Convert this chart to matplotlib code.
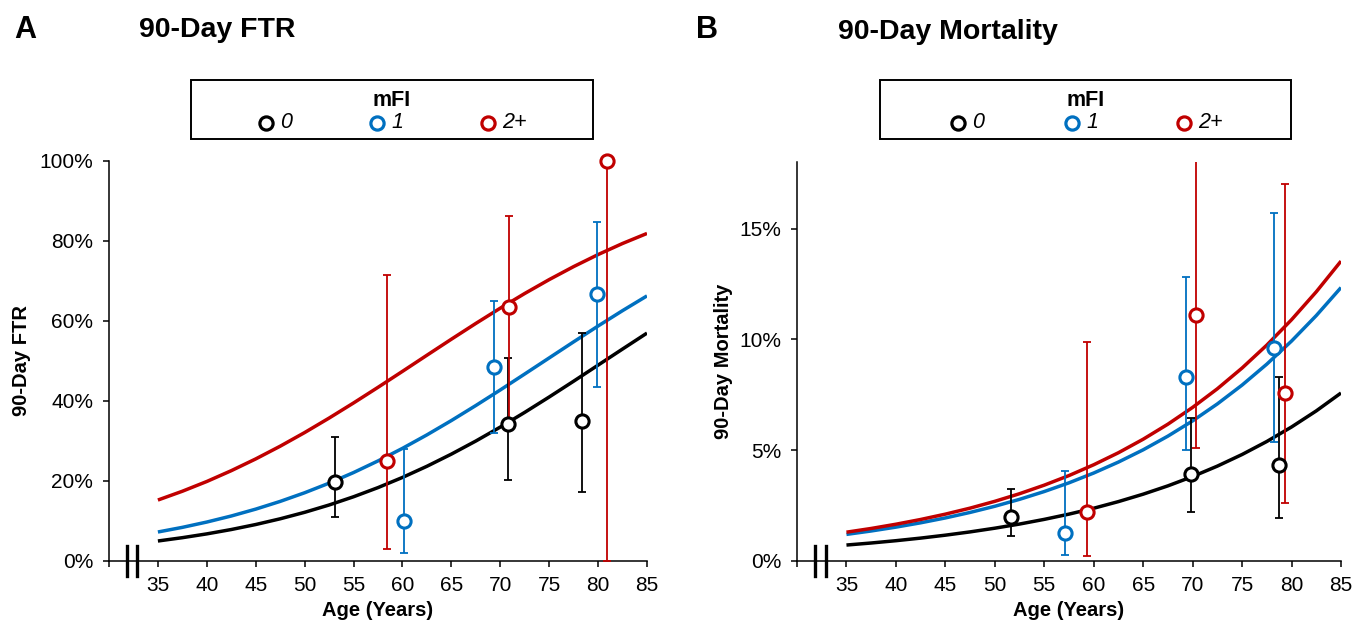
import matplotlib
matplotlib.use("Agg")
import matplotlib.pyplot as plt
from matplotlib.lines import Line2D
from matplotlib.patches import Rectangle
from matplotlib.ticker import FuncFormatter

plt.rcParams['font.family'] = ['Liberation Sans', 'DejaVu Sans']

# ---------------- data ----------------
curve_age = [35, 37.5, 40, 42.5, 45, 47.5, 50, 52.5, 55, 57.5, 60,
             62.5, 65, 67.5, 70, 72.5, 75, 77.5, 80, 82.5, 85]

# Panel A: 90-day FTR fitted curves
ftr_curve_0 = [0.0500, 0.0583, 0.0678, 0.0787, 0.0912, 0.1055, 0.1217, 0.1400, 0.1606, 0.1835, 0.2089,
               0.2368, 0.2672, 0.2999, 0.3348, 0.3716, 0.4100, 0.4495, 0.4897, 0.5299, 0.5698]
ftr_curve_1 = [0.0725, 0.0841, 0.0974, 0.1125, 0.1297, 0.1490, 0.1706, 0.1946, 0.2211, 0.2502, 0.2816,
               0.3153, 0.3511, 0.3887, 0.4276, 0.4675, 0.5077, 0.5479, 0.5875, 0.6259, 0.6628]
ftr_curve_2 = [0.1524, 0.1744, 0.1988, 0.2258, 0.2552, 0.2870, 0.3211, 0.3573, 0.3951, 0.4342, 0.4741,
               0.5144, 0.5545, 0.5939, 0.6321, 0.6688, 0.7035, 0.7360, 0.7661, 0.7938, 0.8189]

# Panel A: observed points with intervals
ftr_age_0 = [53.1, 70.8, 78.4]
ftr_rate_0 = [0.198, 0.343, 0.350]
ftr_lo_0 = [0.110, 0.2025, 0.1725]
ftr_hi_0 = [0.310, 0.5075, 0.570]

ftr_age_1 = [60.2, 69.4, 79.9]
ftr_rate_1 = [0.100, 0.485, 0.6675]
ftr_lo_1 = [0.020, 0.320, 0.435]
ftr_hi_1 = [0.280, 0.650, 0.8475]

ftr_age_2 = [58.4, 70.9, 80.9]
ftr_rate_2 = [0.250, 0.635, 1.000]
ftr_lo_2 = [0.030, 0.345, 0.000]
ftr_hi_2 = [0.715, 0.8625, 1.000]

# Panel B: 90-day mortality fitted curves
mort_curve_0 = [0.00720, 0.00812, 0.00916, 0.01033, 0.01165, 0.01313, 0.01480, 0.01667, 0.01878, 0.02115, 0.02380,
                0.02680, 0.03015, 0.03390, 0.03811, 0.04281, 0.04805, 0.05392, 0.06046, 0.06772, 0.07579]
mort_curve_1 = [0.01200, 0.01354, 0.01528, 0.01723, 0.01943, 0.02191, 0.02469, 0.02782, 0.03134, 0.03527, 0.03969,
                0.04464, 0.05016, 0.05634, 0.06321, 0.07087, 0.07937, 0.08881, 0.09922, 0.11072, 0.12336]
mort_curve_2 = [0.01300, 0.01468, 0.01659, 0.01873, 0.02114, 0.02385, 0.02692, 0.03036, 0.03422, 0.03855, 0.04342,
                0.04885, 0.05494, 0.06173, 0.06930, 0.07770, 0.08706, 0.09741, 0.10885, 0.12145, 0.13528]

mort_age_0 = [51.6, 69.8, 78.7]
mort_rate_0 = [0.0198, 0.0392, 0.0432]
mort_lo_0 = [0.0113, 0.0220, 0.0194]
mort_hi_0 = [0.0324, 0.0644, 0.0829]

mort_age_1 = [57.1, 69.3, 78.2]
mort_rate_1 = [0.0127, 0.0829, 0.0962]
mort_lo_1 = [0.0027, 0.0500, 0.0536]
mort_hi_1 = [0.0405, 0.1280, 0.1570]

mort_age_2 = [59.3, 70.3, 79.3]
mort_rate_2 = [0.0220, 0.1110, 0.0757]
mort_lo_2 = [0.0022, 0.0510, 0.0260]
mort_hi_2 = [0.0990, 0.2000, 0.1700]

group_labels = ['0', '1', '2+']
x_ticks = [30, 35, 40, 45, 50, 55, 60, 65, 70, 75, 80, 85]
x_tick_labels = ['', '35', '40', '45', '50', '55', '60', '65', '70', '75', '80', '85']
ftr_y_ticks = [0, 0.2, 0.4, 0.6, 0.8, 1.0]
mort_y_ticks = [0, 0.05, 0.10, 0.15]

colors = ['#000000', '#0070C0', '#C00000']

# ---------------- figure ----------------
W, H = 1352, 627
fig = plt.figure(figsize=(W / 100, H / 100), dpi=100)


def fx(px):
    return px / W


def fy(py):
    return 1 - py / H


axA = fig.add_axes([fx(109), fy(561), fx(647) - fx(109), fy(161) - fy(561)])
axB = fig.add_axes([fx(797), fy(561), fx(1341) - fx(797), fy(162) - fy(561)])

panels = [
    (axA, [ftr_curve_0, ftr_curve_1, ftr_curve_2],
     [(ftr_age_0, ftr_rate_0, ftr_lo_0, ftr_hi_0),
      (ftr_age_1, ftr_rate_1, ftr_lo_1, ftr_hi_1),
      (ftr_age_2, ftr_rate_2, ftr_lo_2, ftr_hi_2)],
     (0, 1.0), ftr_y_ticks, '90-Day FTR'),
    (axB, [mort_curve_0, mort_curve_1, mort_curve_2],
     [(mort_age_0, mort_rate_0, mort_lo_0, mort_hi_0),
      (mort_age_1, mort_rate_1, mort_lo_1, mort_hi_1),
      (mort_age_2, mort_rate_2, mort_lo_2, mort_hi_2)],
     (0, 0.18), mort_y_ticks, '90-Day Mortality'),
]

for ax, curves, pts, ylim, yt, ylab in panels:
    for c, col in zip(curves, colors):
        ax.plot(curve_age, c, color=col, lw=2.5, zorder=2, solid_capstyle='butt')
    for (age, rate, lo, hi), col in zip(pts, colors):
        yerr = [[r - l for r, l in zip(rate, lo)], [h - r for r, h in zip(rate, hi)]]
        ax.errorbar(age, rate, yerr=yerr, fmt='none', ecolor=col, elinewidth=1.3,
                    capsize=3.2, capthick=1.3, zorder=3)
    for (age, rate, lo, hi), col in zip(pts, colors):
        ax.plot(age, rate, 'o', ms=9.5, mfc='white', mec=col, mew=2.2, ls='none',
                zorder=5, clip_on=False)

    ax.set_xlim(30, 85)
    ax.set_ylim(*ylim)
    ax.set_xticks(x_ticks)
    ax.set_xticklabels(x_tick_labels)
    ax.set_yticks(yt)
    ax.yaxis.set_major_formatter(FuncFormatter(lambda v, p: f"{v * 100:.0f}%"))
    for s in ['top', 'right']:
        ax.spines[s].set_visible(False)
    for s in ['left', 'bottom']:
        ax.spines[s].set_linewidth(1.1)
        ax.spines[s].set_color('black')
    ax.tick_params(axis='both', direction='out', length=4.5, width=1.1, colors='black',
                   labelsize=15)
    ax.tick_params(axis='y', pad=7)
    ax.tick_params(axis='x', pad=6)
    ax.set_xlabel('Age (Years)', fontsize=14.5, fontweight='bold')
    ax.set_ylabel(ylab, fontsize=14.5, fontweight='bold')
    # axis break marks
    for bx in (31.8, 32.9):
        ax.plot([bx, bx], [-0.037, 0.037], color='black', lw=2.4,
                transform=ax.get_xaxis_transform(), clip_on=False, zorder=6)

axA.xaxis.set_label_coords(0.5, -0.100)
axB.xaxis.set_label_coords(0.5, -0.100)
axA.yaxis.set_label_coords(-0.145, 0.5)
axB.yaxis.set_label_coords(-0.118, 0.5)

# panel letters and titles
fig.text(fx(14), fy(30), 'A', fontsize=22, fontweight='bold', ha='left', va='center')
fig.text(fx(139), fy(30), '90-Day FTR', fontsize=20.5, fontweight='bold', ha='left', va='center')
fig.text(fx(696), fy(30), 'B', fontsize=22, fontweight='bold', ha='left', va='center')
fig.text(fx(838), fy(32), '90-Day Mortality', fontsize=20.5, fontweight='bold', ha='left', va='center')

# manual legends
legends = [
    (191, 593, [266, 377, 488]),
    (880, 1291, [958, 1072, 1184]),
]
for x0, x1, mx in legends:
    fig.add_artist(Rectangle((fx(x0), fy(139)), fx(x1) - fx(x0), fy(80) - fy(139),
                             transform=fig.transFigure, fill=False, ec='black', lw=1.4))
    fig.text(fx((x0 + x1) / 2), fy(100), 'mFI', fontsize=15.5, fontweight='bold',
             ha='center', va='center')
    for m, lab, col in zip(mx, group_labels, colors):
        fig.add_artist(Line2D([fx(m)], [fy(123)], transform=fig.transFigure, marker='o',
                              ms=9.5, mfc='white', mec=col, mew=2.3, ls='none'))
        fig.text(fx(m + 14), fy(123), lab, fontsize=15.5, style='italic', ha='left', va='center')

fig.savefig('out.png', dpi=100)
